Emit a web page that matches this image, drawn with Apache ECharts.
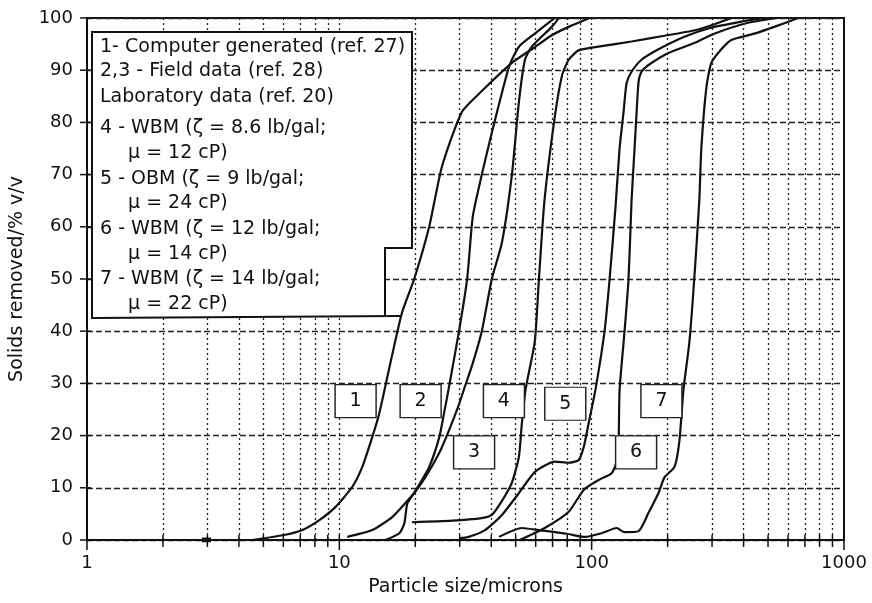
<!DOCTYPE html>
<html>
<head>
<meta charset="utf-8">
<script src="https://cdn.jsdelivr.net/npm/echarts@6/dist/echarts.min.js"></script>
<style>
html,body{margin:0;padding:0;background:#fff;}
#chart{width:872px;height:603px;}
</style>
</head>
<body>
<div id="chart"></div>
<script>
// ---- Data ----
var c1x = [4.53, 6.12, 7.14, 8.33, 9.64, 11.26, 12.33, 13.5, 14.4, 15.8, 17.7, 19.8, 22.7, 25.5, 30.6, 36.7, 48.3, 59.5, 69.5, 81.1, 98.2];
var c1y = [0, 1, 1.9, 3.8, 6.3, 10.2, 14, 19.7, 24.3, 33.1, 43.5, 50, 60, 71.5, 82, 86, 91.4, 94.4, 96.7, 98.3, 100];

var c2x = [15.2, 17.3, 18.1, 18.6, 19.8, 22.7, 24.9, 26.0, 27.2, 29.8, 32.1, 33.8, 36.7, 40.2, 47.0, 51.5, 59.5, 71.4];
var c2y = [0, 1.3, 3.2, 7, 9, 14, 19.7, 24.3, 29.3, 40, 50, 62, 70, 78, 90.6, 94.5, 97, 100];

var c3x = [10.75, 13.5, 16.2, 18.2, 19.8, 21.9, 24.9, 27.2, 29.8, 31.5, 33.6, 36.7, 40.2, 44.1, 48.3, 51.5, 54.4, 57.9, 69.5, 74.1];
var c3y = [0.6, 1.9, 4.4, 7, 9, 12, 16.7, 21, 26, 29.5, 33.5, 40, 50, 57, 70, 84, 92, 94.5, 98.3, 100];

var c4x = [19.4, 28.0, 36.7, 40.2, 44.1, 48.3, 51.5, 52.9, 54.8, 59.5, 61.8, 65.0, 71.4, 76.3, 81.1, 88.8, 109.5, 143.9, 194.3, 265, 358];
var c4y = [3.4, 3.7, 4.2, 4.8, 7.5, 11, 16, 22.4, 29, 38, 50, 65, 81, 89, 92, 93.8, 94.6, 95.5, 96.6, 97.8, 100];

var c5x = [29.8, 32.6, 37.8, 44.1, 51.5, 59.5, 71.4, 81.1, 88.8, 93.0, 97.3, 103.7, 112.5, 117.8, 124.4, 129, 133.8, 137.5, 143.9, 157.6, 184, 233, 290, 392, 483];
var c5y = [0.3, 0.6, 1.9, 4.8, 9, 13, 15, 14.8, 15.3, 17.8, 22.4, 29, 40, 50, 64, 75, 82, 87.5, 89.7, 92, 94, 96.4, 98, 99.3, 100];

var c6x = [51.9, 65.2, 81.1, 93.0, 106.6, 120, 125.6, 127.9, 129, 135, 140, 143.9, 147.9, 150.7, 153.4, 157.6, 168, 201.5, 255, 306, 410, 538];
var c6y = [0, 2.3, 5.4, 9.6, 11.5, 12.8, 15, 19, 28.7, 40, 50, 65, 75, 82, 87.7, 89.7, 91, 93.3, 95.2, 97, 99, 100];

var c7x = [42.9, 52.9, 61.7, 79.7, 93.8, 109.5, 125.6, 135, 153.4, 168, 184, 194.3, 212.9, 222.7, 231, 244, 255, 267, 272, 285, 298, 326.5, 357.6, 441, 529, 658];
var c7y = [0.6, 2.3, 1.9, 1.2, 0.6, 1.3, 2.3, 1.5, 1.7, 5.2, 9, 12, 14, 19, 28.7, 38, 50, 65, 75, 86.8, 91.4, 94, 95.8, 97, 98.3, 100];

var blobX = [2.85, 3.1];
var blobY = [0, 0];

var boxLabels = ['1', '2', '3', '4', '5', '6', '7'];
var boxX = [11.6, 21.0, 34.2, 44.9, 78.6, 150, 189];
var boxY = [26.6, 26.6, 16.8, 26.6, 26.1, 16.8, 26.6];

var xMajor = [1, 10, 100, 1000];
var xMinor = [2, 3, 4, 5, 6, 7, 8, 9, 20, 30, 40, 50, 60, 70, 80, 90, 200, 300, 400, 500, 600, 700, 800, 900];
var yTicks = [0, 10, 20, 30, 40, 50, 60, 70, 80, 90, 100];

var legendLines = [
  '1- Computer generated (ref. 27)',
  '2,3 - Field data (ref. 28)',
  'Laboratory data (ref. 20)',
  '4 - WBM (\u03b6 = 8.6 lb/gal;',
  '\u03bc = 12 cP)',
  '5 - OBM (\u03b6 = 9 lb/gal;',
  '\u03bc = 24 cP)',
  '6 - WBM (\u03b6 = 12 lb/gal;',
  '\u03bc = 14 cP)',
  '7 - WBM (\u03b6 = 14 lb/gal;',
  '\u03bc = 22 cP)'
];

// ---- helpers ----
function zip(xs, ys) { return xs.map(function (x, i) { return [x, ys[i]]; }); }
var FONT = 'DejaVu Sans';
var INK = '#111';

var curves = [[c1x, c1y], [c2x, c2y], [c3x, c3y], [c4x, c4y], [c5x, c5y], [c6x, c6y], [c7x, c7y]];
var series = [];

// vertical dotted grid lines via markLine on an empty helper series
series.push({
  type: 'line', data: [], z: 1, silent: true,
  markLine: {
    silent: true, symbol: ['none', 'none'], label: { show: false },
    lineStyle: { color: '#222', width: 1.3, type: [2, 3] },
    data: xMinor.concat([10, 100]).map(function (v) { return { xAxis: v }; })
  }
});

curves.forEach(function (c, i) {
  series.push({
    type: 'line', name: 'c' + (i + 1), data: zip(c[0], c[1]),
    showSymbol: false, smooth: 0.2, z: 3, silent: true,
    lineStyle: { color: INK, width: 2.2 }
  });
});

series.push({
  type: 'line', data: zip(blobX, blobY), showSymbol: false, z: 3,
  lineStyle: { color: INK, width: 5 }
});

// tick marks on x axis
series.push({
  type: 'custom', z: 5, silent: true,
  data: xMinor.map(function (v) { return [v, 0, 0]; }).concat(xMajor.map(function (v) { return [v, 0, 1]; })),
  renderItem: function (params, api) {
    var p = api.coord([api.value(0), 0]);
    var major = api.value(2) === 1;
    return { type: 'line', shape: { x1: p[0], y1: p[1] - 5, x2: p[0], y2: p[1] + (major ? 10 : 7) },
      style: { stroke: INK, lineWidth: 1.5 } };
  }
});
// tick marks on y axis
series.push({
  type: 'custom', z: 5, silent: true,
  data: yTicks.map(function (v) { return [1, v]; }),
  renderItem: function (params, api) {
    var p = api.coord([1, api.value(1)]);
    return { type: 'line', shape: { x1: p[0] - 7, y1: p[1], x2: p[0] + 4, y2: p[1] },
      style: { stroke: INK, lineWidth: 1.5 } };
  }
});

// numbered label boxes
series.push({
  type: 'scatter', z: 6, silent: true,
  data: zip(boxX, boxY),
  symbol: 'rect', symbolSize: [41, 33],
  itemStyle: { color: '#fff', borderColor: '#222', borderWidth: 1.3, opacity: 1 },
  label: {
    show: true, position: 'inside', color: INK, fontSize: 19, fontFamily: FONT,
    formatter: function (p) { return boxLabels[p.dataIndex]; }
  }
});

// legend box (annotation)
var graphics = [
  { type: 'polygon', z: 100, silent: true,
    shape: { points: [[92, 32], [412, 32], [412, 248], [385, 248], [385, 317], [92, 318]] },
    style: { fill: '#fff', stroke: null } },
  { type: 'polyline', z: 101, silent: true,
    shape: { points: [[400, 316], [92, 318], [92, 32], [412, 32], [412, 248], [385, 248], [385, 317]] },
    style: { stroke: INK, lineWidth: 2, fill: null } }
];
var lineYs = [47, 71, 97, 128, 153, 179, 203, 229, 254, 279, 304];
legendLines.forEach(function (t, i) {
  var indent = t.charAt(0) === '\u03bc';
  graphics.push({
    type: 'text', z: 102, silent: true,
    x: indent ? 128 : 100, y: lineYs[i],
    style: { text: t, fill: INK, font: '19px "' + FONT + '"', textVerticalAlign: 'middle', verticalAlign: 'middle', textAlign: 'left', align: 'left' }
  });
});

var chart = echarts.init(document.getElementById('chart'), null, { renderer: 'canvas' });
chart.setOption({
  animation: false,
  backgroundColor: '#fff',
  grid: { left: 84, right: 28, top: 18, bottom: 63, show: true, borderColor: INK, borderWidth: 2, backgroundColor: 'transparent' },
  xAxis: {
    type: 'log', logBase: 10, min: 1, max: 1000,
    axisLine: { show: true, lineStyle: { color: INK, width: 2 } },
    axisTick: { show: false },
    splitLine: { show: false },
    axisLabel: { fontSize: 18, color: INK, fontFamily: FONT, margin: 14,
      formatter: function (v) { return String(Math.round(v)); } },
    name: 'Particle size/microns', nameLocation: 'middle', nameGap: 38,
    nameTextStyle: { fontSize: 19, color: INK, fontFamily: FONT }
  },
  yAxis: {
    type: 'value', min: 0, max: 100, interval: 10,
    axisLine: { show: true, lineStyle: { color: INK, width: 2 } },
    axisTick: { show: false },
    splitLine: { show: true, lineStyle: { color: '#222', width: 1.3, type: [6, 3] } },
    axisLabel: { fontSize: 18, color: INK, fontFamily: FONT, margin: 14 },
    name: 'Solids removed/% v/v', nameLocation: 'middle', nameGap: 60,
    nameTextStyle: { fontSize: 19, color: INK, fontFamily: FONT }
  },
  graphic: graphics,
  series: series
});
</script>
</body>
</html>
